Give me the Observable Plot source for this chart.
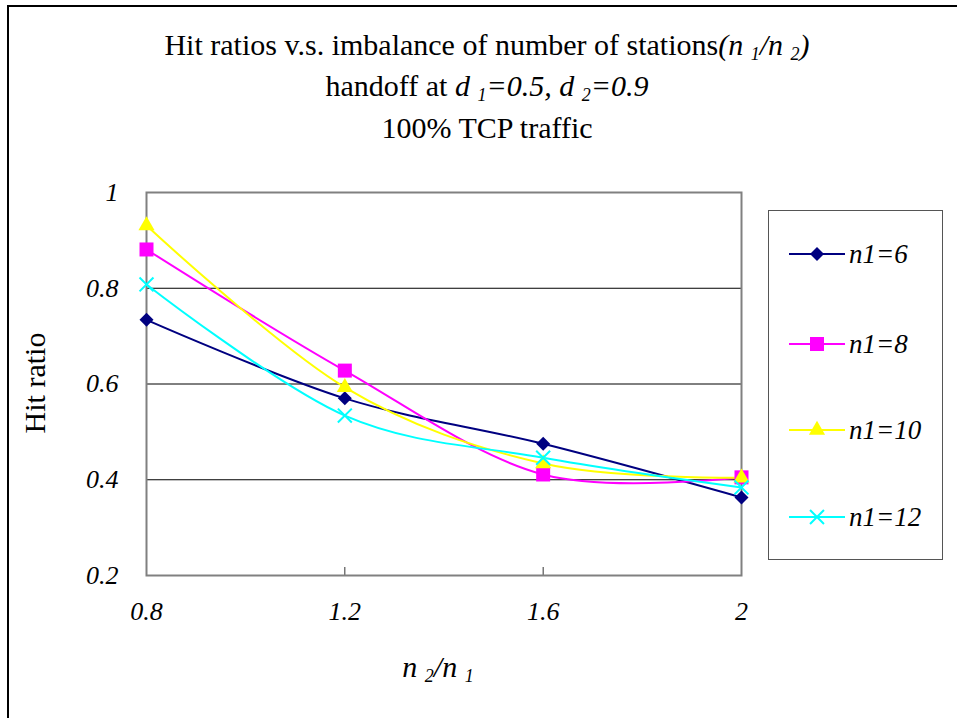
<!DOCTYPE html>
<html>
<head>
<meta charset="utf-8">
<script src="https://cdn.jsdelivr.net/npm/d3@7"></script>
<script src="https://cdn.jsdelivr.net/npm/@observablehq/plot@0.6"></script>
<style>
  html, body { margin: 0; padding: 0; background: #fff; overflow: hidden; }
  #wrap { position: relative; width: 957px; height: 718px; font-family: "Liberation Serif", Tinos, "Times New Roman", serif; color: #000; }
  #wrap svg.plot { position: absolute; left: 0; top: 0; }
  .border { position: absolute; left: 7px; top: 5px; width: 980px; height: 740px; border: 2px solid #000; box-sizing: border-box; }
  .title { position: absolute; left: 0; width: 974px; text-align: center; font-size: 30px; line-height: 34px; white-space: nowrap; }
  .it { font-style: italic; }
  sub { font-size: 0.6em; vertical-align: -0.25em; line-height: 0; }
  .ylab { position: absolute; left: 35px; top: 383px; transform: translate(-50%, -50%) rotate(-90deg); font-size: 30px; white-space: nowrap; }
  .xlab { position: absolute; left: 438px; top: 667px; transform: translate(-50%, -50%); font-size: 30px; font-style: italic; white-space: nowrap; }
  .legend { position: absolute; left: 768px; top: 210px; width: 175px; height: 350px; border: 1.5px solid #555; box-sizing: border-box; background: #fff; }
  .entry { position: absolute; left: 20px; height: 30px; display: flex; align-items: center; font-size: 27px; font-style: italic; white-space: nowrap; }
  .entry svg { margin-right: 4px; }
</style>
</head>
<body>
<div id="wrap">
  <div class="border"></div>
</div>
<script>
// ---- data ----
const xValues = [0.8, 1.2, 1.6, 2];
const seriesNames = ["n1=6", "n1=8", "n1=10", "n1=12"];
const n1_6  = [0.734, 0.570, 0.475, 0.363];
const n1_8  = [0.881, 0.628, 0.411, 0.405];
const n1_10 = [0.931, 0.593, 0.434, 0.404];
const n1_12 = [0.808, 0.534, 0.446, 0.384];
const seriesColors = ["#000080", "#FF00FF", "#FFFF00", "#00FFFF"];
const yTicks = [0.2, 0.4, 0.6, 0.8, 1];
const yGrid = [0.4, 0.6, 0.8];
const xTicks = [0.8, 1.2, 1.6, 2];
const xInnerTicks = [1.2, 1.6];

const seriesValues = [n1_6, n1_8, n1_10, n1_12];
const data = seriesNames.flatMap((s, i) =>
  xValues.map((x, j) => ({series: s, x, y: seriesValues[i][j]})));

const FONT = '"Liberation Serif", Tinos, "Times New Roman", serif';

// marker styles
const markerDefs = [
  {symbol: d3.symbolDiamond2, r: 6.3, filled: true},
  {symbol: d3.symbolSquare, r: 7.9, filled: true},
  {symbol: d3.symbolTriangle, r: 6.0, filled: true},
  {symbol: d3.symbolTimes, r: 6.4, filled: false}
];

const marks = [
  Plot.gridY(yGrid, {stroke: "#000", strokeOpacity: 1, strokeWidth: 1}),
  Plot.axisX(xInnerTicks, {tickSize: 8, dy: -8, tickFormat: () => "", stroke: "#333", label: null}),
  Plot.frame({stroke: "#808080", strokeWidth: 2}),
  Plot.axisY(yTicks, {tickSize: 0, tickPadding: 28, fontSize: 26, fontStyle: "italic", tickFormat: d => String(d), label: null}),
  Plot.axisX(xTicks, {tickSize: 0, tickPadding: 26, fontSize: 26, fontStyle: "italic", tickFormat: d => String(d), label: null})
];
seriesNames.forEach((s, i) => {
  marks.push(Plot.line(data.filter(d => d.series === s), {x: "x", y: "y", stroke: seriesColors[i], strokeWidth: 2, curve: "cardinal"}));
});
seriesNames.forEach((s, i) => {
  const m = markerDefs[i];
  const opts = {x: "x", y: "y", symbol: m.symbol, r: m.r};
  if (m.filled) { opts.fill = seriesColors[i]; opts.stroke = "none"; }
  else { opts.stroke = seriesColors[i]; opts.strokeWidth = 2; opts.fill = "none"; }
  marks.push(Plot.dot(data.filter(d => d.series === s), opts));
});

const chart = Plot.plot({
  width: 957,
  height: 718,
  marginLeft: 146,
  marginRight: 216,
  marginTop: 192,
  marginBottom: 143,
  x: {domain: [0.8, 2]},
  y: {domain: [0.2, 1]},
  style: {fontFamily: FONT, fontSize: "26px", color: "#000", background: "transparent", overflow: "visible"},
  marks
});
chart.classList.add("plot");
const wrap = document.getElementById("wrap");
wrap.appendChild(chart);

// titles
const titles = [
  {top: 28, html: 'Hit ratios v.s. imbalance of number of stations<span class="it">(n <sub>1</sub>/n <sub>2</sub>)</span>'},
  {top: 69, html: 'handoff at <span class="it">d <sub>1</sub>=0.5, d <sub>2</sub>=0.9</span>'},
  {top: 111, html: '100% TCP traffic'}
];
titles.forEach(t => {
  const d = document.createElement("div");
  d.className = "title";
  d.style.top = t.top + "px";
  d.innerHTML = t.html;
  wrap.appendChild(d);
});

const yl = document.createElement("div");
yl.className = "ylab"; yl.textContent = "Hit ratio"; wrap.appendChild(yl);
const xl = document.createElement("div");
xl.className = "xlab"; xl.innerHTML = 'n <sub>2</sub>/n <sub>1</sub>'; wrap.appendChild(xl);

// legend
const legend = document.createElement("div");
legend.className = "legend";
wrap.appendChild(legend);
const entryTops = [28, 118, 204, 291];
seriesNames.forEach((s, i) => {
  const e = document.createElement("div");
  e.className = "entry";
  e.style.top = entryTops[i] + "px";
  const svg = d3.create("svg").attr("width", 56).attr("height", 30);
  svg.append("line").attr("x1", 0).attr("x2", 56).attr("y1", 15).attr("y2", 15)
    .attr("stroke", seriesColors[i]).attr("stroke-width", 2);
  const m = markerDefs[i];
  const p = svg.append("path").attr("transform", "translate(28,15)")
    .attr("d", d3.symbol(m.symbol, Math.PI * m.r * m.r)());
  if (m.filled) p.attr("fill", seriesColors[i]);
  else p.attr("fill", "none").attr("stroke", seriesColors[i]).attr("stroke-width", 2);
  e.appendChild(svg.node());
  const t = document.createElement("span");
  t.textContent = s;
  e.appendChild(t);
  legend.appendChild(e);
});
</script>
</body>
</html>
